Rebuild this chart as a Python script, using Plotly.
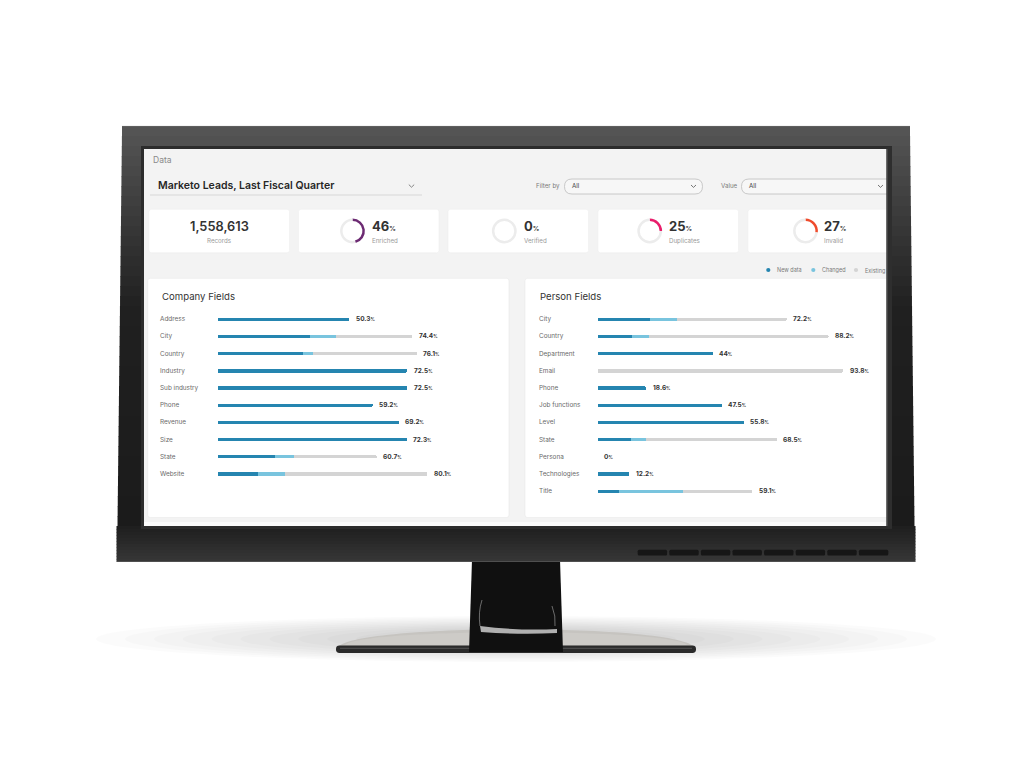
import plotly.graph_objects as go

# page offset: the browser body has an 8px margin, so the figure is drawn
# 8px smaller and all layout positions are given in page pixels
OFF = 8
W, H = 1024 - OFF, 768 - OFF

# ---------------- data ----------------
company_fields = ["Address", "City", "Country", "Industry", "Sub industry", "Phone",
                  "Revenue", "Size", "State", "Website"]
company_new = [50.3, 35.4, 32.8, 72.5, 72.5, 59.2, 69.2, 72.3, 21.9, 15.6]
company_changed = [0, 9.8, 3.8, 0, 0, 0, 0, 0, 7.2, 10.2]
company_existing = [0, 29.2, 39.5, 0, 0, 0, 0, 0, 31.6, 54.3]
company_total = [50.3, 74.4, 76.1, 72.5, 72.5, 59.2, 69.2, 72.3, 60.7, 80.1]

person_fields = ["City", "Country", "Department", "Email", "Phone", "Job functions",
                 "Level", "State", "Persona", "Technologies", "Title"]
person_new = [19.9, 13.0, 44, 0, 18.6, 47.5, 55.8, 12.8, 0, 12.2, 8.1]
person_changed = [10.3, 6.6, 0, 0, 0, 0, 0, 5.8, 0, 0, 24.4]
person_existing = [42.0, 68.6, 0, 93.8, 0, 0, 0, 49.9, 0, 0, 26.6]
person_total = [72.2, 88.2, 44, 93.8, 18.6, 47.5, 55.8, 68.5, 0, 12.2, 59.1]

series_names = ["New data", "Changed", "Existing"]
series_colors = ["#2585b0", "#79c4de", "#d4d4d4"]

records_total = "1,558,613"
kpi_names = ["Records", "Enriched", "Verified", "Duplicates", "Invalid"]
kpi_pct = [None, 46, 0, 25, 27]
kpi_colors = [None, "#6c2a72", "#cfcfcf", "#e81e6b", "#ef4b2c"]

dashboard_title = "Marketo Leads, Last Fiscal Quarter"
FONT = "Inter"


# ---------------- helpers ----------------
def X(px):
    return (px - OFF) / W


def Y(py):
    return 1 - (py - OFF) / H


def rect(x0, y0, x1, y1, fill, line=None, lw=0):
    return dict(type="rect", xref="paper", yref="paper", layer="below",
                x0=X(x0), x1=X(x1), y0=Y(y1), y1=Y(y0), fillcolor=fill,
                line=dict(width=lw, color=line or fill))


def path(pts_str, fill=None, line=None, lw=0):
    return dict(type="path", xref="paper", yref="paper", layer="below", path=pts_str,
                fillcolor=fill or "rgba(0,0,0,0)", line=dict(width=lw, color=line or "rgba(0,0,0,0)"))


def P(x, y):
    return f"{X(x):.5f},{Y(y):.5f}"


def rrect(x0, y0, x1, y1, r, fill, line=None, lw=0, right_round=True):
    rr = r if right_round else 0
    s = (f"M {P(x0 + r, y0)} L {P(x1 - rr, y0)} Q {P(x1, y0)} {P(x1, y0 + rr)} "
         f"L {P(x1, y1 - rr)} Q {P(x1, y1)} {P(x1 - rr, y1)} L {P(x0 + r, y1)} "
         f"Q {P(x0, y1)} {P(x0, y1 - r)} L {P(x0, y0 + r)} Q {P(x0, y0)} {P(x0 + r, y0)} Z")
    return path(s, fill, line, lw)


def ellipse(x0, y0, x1, y1, fill):
    return dict(type="circle", xref="paper", yref="paper", layer="below",
                x0=X(x0), x1=X(x1), y0=Y(y1), y1=Y(y0), fillcolor=fill, line=dict(width=0))


def lerp_color(c0, c1, t):
    a = [int(c0[i:i + 2], 16) for i in (1, 3, 5)]
    b = [int(c1[i:i + 2], 16) for i in (1, 3, 5)]
    return "#" + "".join(f"{round(a[k] + (b[k] - a[k]) * t):02x}" for k in range(3))


shapes = []

# ---------------- shadow & stand ----------------
for k in range(10):
    t = k / 9
    hw = 420 - 260 * t
    hh = 22 - 12 * t
    shapes.append(ellipse(516 - hw, 638 - hh, 516 + hw, 640 + hh, "rgba(0,0,0,0.016)"))
# base top
shapes.append(path(f"M {P(337, 648)} C {P(350, 623)} {P(682, 623)} {P(695, 648)} Z",
                   fill="#c6c4c0"))
shapes.append(path(f"M {P(345, 645)} C {P(360, 628)} {P(672, 628)} {P(687, 645)} Z",
                   fill="#cdcbc7"))
# base rim
shapes.append(rrect(336, 645.5, 696, 653, 3.5, "#2a2a2a"))
shapes.append(path(f"M {P(340, 648.3)} L {P(692, 648.3)}", line="#707070", lw=0.6))
# neck
shapes.append(path(f"M {P(472, 560)} L {P(560, 560)} L {P(563, 652)} L {P(469, 652)} Z",
                   fill="#101010"))
shapes.append(path(f"M {P(480, 626)} Q {P(520, 631)} {P(557, 629)} L {P(557, 633)} "
                   f"Q {P(520, 635)} {P(481, 632)} Z", fill="rgba(230,230,230,0.75)"))
shapes.append(path(f"M {P(482, 600)} Q {P(478, 612)} {P(480, 626)}", line="rgba(200,200,200,0.5)", lw=1))
shapes.append(path(f"M {P(552, 606)} Q {P(556, 616)} {P(555, 626)}", line="rgba(200,200,200,0.5)", lw=1))

# ---------------- monitor body ----------------
n_bands = 40
top, bot = 126, 526
for i in range(n_bands):
    y0 = top + (bot - top) * i / n_bands
    y1 = top + (bot - top) * (i + 1) / n_bands + 0.6
    t = i / (n_bands - 1)
    if t < 0.45:
        col = lerp_color("#545454", "#202020", t / 0.45)
    else:
        col = lerp_color("#202020", "#1b1b1b", (t - 0.45) / 0.55)
    xl0 = 122 - 5 * (y0 - top) / (562 - top)
    xr0 = 910 + 5 * (y0 - top) / (562 - top)
    shapes.append(rect(xl0, y0, xr0, y1, col))
# chin
for i in range(12):
    y0 = 526 + 36 * i / 12
    y1 = 526 + 36 * (i + 1) / 12 + 0.5
    col = lerp_color("#1f1f1f", "#363636", i / 11)
    shapes.append(rect(117 - 0.5, y0, 915 + 0.5, min(y1, 562), col))
shapes.append(path(f"M {P(117, 561.5)} L {P(915, 561.5)}", line="#555555", lw=0.8))
shapes.append(path(f"M {P(122, 126.4)} L {P(910, 126.4)}", line="#6a6a6a", lw=0.6))
# vents
for k in range(8):
    vx = 637.7 + 31.6 * k
    shapes.append(rrect(vx, 549.8, vx + 29.4, 555.5, 1.5, "#161616"))

# ---------------- screen ----------------
shapes.append(rect(141, 146, 892, 529, "#2c2c2c"))
shapes.append(rect(144, 149, 889, 526, "#f3f3f3"))
shapes.append(rect(144, 522, 889, 526, "#fbfbfb"))

# header
shapes.append(path(f"M {P(150, 195)} L {P(422, 195)}", line="#cfcfcf", lw=0.8))
shapes.append(path(f"M {P(408.8, 184.6)} L {P(411.5, 187.2)} L {P(414.2, 184.6)}", line="#777777", lw=0.9))
shapes.append(rrect(564.5, 179, 702.5, 194, 7.5, "#f7f7f7", "#bdbdbd", 0.8))
shapes.append(path(f"M {P(691, 185)} L {P(693.5, 187.4)} L {P(696, 185)}", line="#666666", lw=0.9))
shapes.append(rrect(741.5, 179, 888, 194, 7.5, "#f7f7f7", "#bdbdbd", 0.8, right_round=False))
shapes.append(path(f"M {P(878, 185)} L {P(880.5, 187.4)} L {P(883, 185)}", line="#666666", lw=0.9))

# KPI cards
card_x = [(149, 289.5), (298.5, 439), (448, 588.5), (598, 738.5), (748, 888)]
for i, (a, b) in enumerate(card_x):
    shapes.append(rrect(a, 209.3, b, 252.8, 2.5, "#ffffff", "#ececec", 0.5, right_round=(i < 4)))

# legend dots
legend_x = [768.3, 813.3, 856.0]
for lx, c in zip(legend_x, series_colors):
    shapes.append(ellipse(lx - 2.1, 270 - 2.1, lx + 2.1, 270 + 2.1, c))

# panels
shapes.append(rrect(147.7, 278.3, 509, 517.5, 2.5, "#ffffff", "#e9e9e9", 0.6))
shapes.append(rrect(525, 278.3, 888, 517.5, 2.5, "#ffffff", "#e9e9e9", 0.6, right_round=False))

# right inner bezel edge
shapes.append(rect(886.5, 147, 892, 528, "#2e2e2e"))
shapes.append(rect(886.5, 149, 888, 526, "#444444"))

# ---------------- traces ----------------
fig = go.Figure()

company_series = [company_new, company_changed, company_existing]
person_series = [person_new, person_changed, person_existing]
for name, color, vals in zip(series_names, series_colors, company_series):
    fig.add_trace(go.Bar(x=vals, y=company_fields, orientation="h", name=name,
                         marker=dict(color=color, line=dict(width=0)),
                         xaxis="x", yaxis="y", showlegend=False, hoverinfo="skip"))
for name, color, vals in zip(series_names, series_colors, person_series):
    fig.add_trace(go.Bar(x=vals, y=person_fields, orientation="h", name=name,
                         marker=dict(color=color, line=dict(width=0)),
                         xaxis="x2", yaxis="y2", showlegend=False, hoverinfo="skip"))

# donuts
donut_c = [None, (352.5, 231), (504.3, 231), (649.7, 231), (805.5, 231)]
R = 12.4
for i in range(1, 5):
    cx, cy = donut_c[i]
    v = kpi_pct[i]
    fig.add_trace(go.Pie(values=[v, 100 - v], sort=False, direction="clockwise", rotation=0,
                         hole=0.8, textinfo="none", hoverinfo="skip", showlegend=False,
                         marker=dict(colors=[kpi_colors[i], "#ececec"], line=dict(width=0)),
                         domain=dict(x=[X(cx - R), X(cx + R)], y=[Y(cy + R), Y(cy - R)])))

# ---------------- annotations ----------------
ann = []


def txt(x, y, text, size, color, anchor="left", weight=400):
    ann.append(dict(x=X(x), y=Y(y), xref="paper", yref="paper", text=text, showarrow=False,
                    xanchor=anchor, yanchor="middle",
                    font=dict(family=FONT, size=size, color=color, weight=weight)))


txt(150.5, 159.5, "Data", 8.5, "#8a8a8a")
txt(155.5, 185.5, dashboard_title, 10.5, "#262626", weight=600)
txt(533.5, 186, "Filter by", 6.2, "#7a7a7a")
txt(569.5, 186, "All", 6.2, "#444444")
txt(718.5, 186, "Value", 6.2, "#7a7a7a")
txt(746.5, 186, "All", 6.2, "#444444")

txt(219, 226.5, records_total, 12.8, "#333333", "center", weight=600)
txt(219, 240.8, kpi_names[0], 6.2, "#9a9a9a", "center")
kpi_tx = [None, 370.3, 521.8, 667.3, 822.3]
for i in range(1, 5):
    txt(kpi_tx[i], 226.5, f"{kpi_pct[i]}<span style='font-size:6.5px'>%</span>", 13, "#333333",
        weight=700)
    txt(kpi_tx[i], 240.8, kpi_names[i], 6.2, "#9a9a9a")

for lx, name in zip(legend_x, series_names):
    txt(lx + 7.0, 270, name, 5.5, "#7a7a7a")

txt(159.5, 296.8, "Company Fields", 9.6, "#333333")
txt(538, 296.8, "Person Fields", 9.6, "#333333")

for f in company_fields:
    ann.append(dict(x=X(157.5), xref="paper", y=f, yref="y", text=f, showarrow=False,
                    xanchor="left", yanchor="middle", font=dict(family=FONT, size=6.4, color="#6a6a6a")))
for f in person_fields:
    ann.append(dict(x=X(537), xref="paper", y=f, yref="y2", text=f, showarrow=False,
                    xanchor="left", yanchor="middle", font=dict(family=FONT, size=6.4, color="#6a6a6a")))


def pct(v):
    return f"{v:g}<span style='font-size:4.3px'>%</span>"


for f, t in zip(company_fields, company_total):
    ann.append(dict(x=t, xref="x", y=f, yref="y", text=pct(t), showarrow=False, xshift=4.5,
                    xanchor="left", yanchor="middle",
                    font=dict(family=FONT, size=6.5, color="#333333", weight=700)))
for f, t in zip(person_fields, person_total):
    ann.append(dict(x=t, xref="x2", y=f, yref="y2", text=pct(t), showarrow=False, xshift=4.5,
                    xanchor="left", yanchor="middle",
                    font=dict(family=FONT, size=6.5, color="#333333", weight=700)))

# ---------------- axes ----------------
PX_PER_PCT = 2.62
c_x0, c_x1 = 217.5, 505
p_x0, p_x1 = 597.5, 885
row_h = 17.19
c_top = 319.3 - row_h / 2
p_top = 319.3 - row_h / 2
c_bot = c_top + row_h * len(company_fields)
p_bot = p_top + row_h * len(person_fields)

hidden = dict(visible=False, showgrid=False, zeroline=False, fixedrange=True)
fig.update_layout(
    width=W, height=H, margin=dict(l=0, r=0, t=0, b=0),
    paper_bgcolor="#ffffff", plot_bgcolor="rgba(0,0,0,0)",
    barmode="stack", bargap=0.81, barcornerradius="50%",
    xaxis=dict(domain=[X(c_x0), X(c_x1)], range=[0, (c_x1 - c_x0) / PX_PER_PCT], anchor="y", **hidden),
    yaxis=dict(domain=[Y(c_bot), Y(c_top)], type="category", categoryorder="array",
               categoryarray=company_fields, range=[len(company_fields) - 0.5, -0.5], anchor="x", **hidden),
    xaxis2=dict(domain=[X(p_x0), X(p_x1)], range=[0, (p_x1 - p_x0) / PX_PER_PCT], anchor="y2", **hidden),
    yaxis2=dict(domain=[Y(p_bot), Y(p_top)], type="category", categoryorder="array",
                categoryarray=person_fields, range=[len(person_fields) - 0.5, -0.5], anchor="x2", **hidden),
    shapes=shapes, annotations=ann, showlegend=False,
    font=dict(family=FONT),
)

fig.write_html("out.html")
